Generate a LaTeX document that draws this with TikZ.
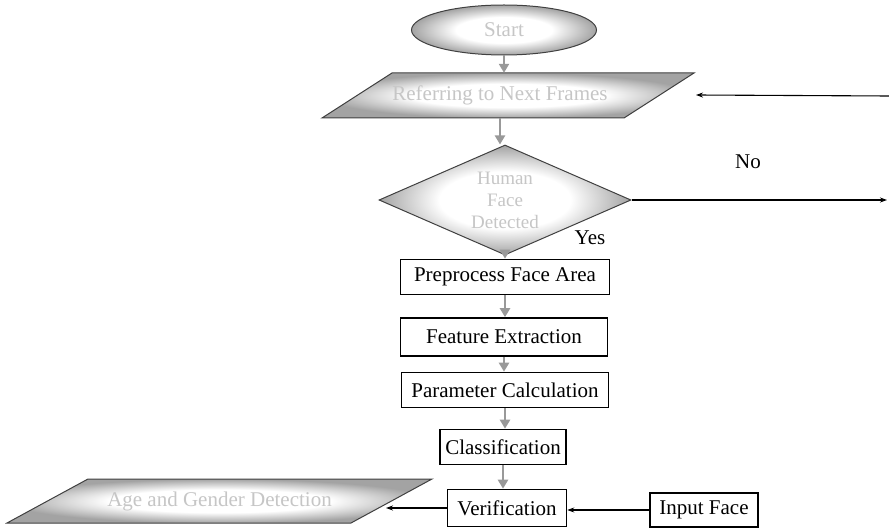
\documentclass[tikz,border=0pt]{standalone}
\usepackage{fontspec}
\setmainfont{Liberation Serif}
\usetikzlibrary{shapes.geometric,arrows.meta}
\pgfdeclareradialshading{softglow}{\pgfpoint{0bp}{0bp}}{color(0bp)=(white); color(13bp)=(white); color(25bp)=(gray!72); color(50bp)=(gray!72)}
\begin{document}
\begin{tikzpicture}[x=1pt,y=-1pt,
  every node/.style={font=\fontsize{21}{24}\selectfont},
  procbox/.style={draw=black,line width=1.6pt,fill=white,rectangle,inner sep=0pt,minimum height=35pt},
  shadefill/.style={draw=black!75,line width=1pt,shading=softglow},
  ghost/.style={text=gray!45},
  flow/.style={draw=gray!80,line width=2.8pt,-{Triangle[width=10pt,length=9pt]}},
  link/.style={draw=black,line width=1.1pt,-{Stealth[length=7pt,width=5pt]}},
  lbl/.style={font=\fontsize{21}{24}\selectfont}
]
\useasboundingbox (0,0) rectangle (889,529);

% start
\node[ellipse, shadefill, ghost, minimum width=185pt, minimum height=50pt] (start) at (504,30) {Start};

% next frame parallelogram
\path[shadefill] (392,73) -- (694,73) -- (624,118) -- (322,118) -- cycle;
\node[ghost, minimum width=240pt, minimum height=45pt, inner sep=0pt] (frame) at (500,95.5) {Referring to Next Frames};

% decision
\node[diamond, shadefill, ghost, aspect=2.3, inner sep=0pt, minimum width=252pt, minimum height=110pt, align=center, font=\fontsize{19}{22}\selectfont] (detect) at (505,200) {Human\\Face\\Detected};

% process boxes
\node[procbox, minimum width=209pt] (pre) at (505,277) {Preprocess Face Area};
\node[procbox, minimum width=207pt, minimum height=38pt] (feat) at (504,337) {Feature Extraction};
\node[procbox, minimum width=207pt] (param) at (505,390) {Parameter Calculation};
\node[procbox, minimum width=126pt] (cls) at (503,447) {Classification};
\node[procbox, minimum width=119pt, minimum height=37pt] (ver) at (507,508) {Verification};
\node[procbox, minimum width=108pt, minimum height=34pt] (inp) at (704,510) {Input Face};

% output parallelogram
\path[shadefill] (88,479) -- (432,479) -- (351,523) -- (7,523) -- cycle;
\node[ghost, minimum width=260pt, minimum height=44pt, inner sep=0pt] (age) at (219.5,501) {Age and Gender Detection};
\coordinate (ageR) at (386,508);

% labels
\node[lbl] (yes) at (590,238) {Yes};
\node[lbl] (no) at (748,162) {No};

% vertical flow
\draw[flow] (start.south) -- (start.south |- frame.north);
\draw[flow] (frame.south) -- (frame.south |- detect.north);
\draw[flow] (detect.south) -- (detect.south |- pre.north);
\draw[flow] (pre.south) -- (pre.south |- feat.north);
\draw[flow] (feat.south) -- (feat.south |- param.north);
\draw[flow] (param.south) -- (param.south |- cls.north);
\draw[flow] (cls.south) -- (cls.south |- ver.north);

% horizontal links
\draw[link] (inp.west) -- (ver.east |- inp.west);
\draw[link] (ver.west) -- (ageR);
\coordinate (loopin) at (889,96);
\coordinate (looptip) at (696,95);
\draw[link] (loopin) -- (looptip);
\coordinate (noend) at (887,200);
\draw[link] (detect.east) -- (noend);
\end{tikzpicture}
\end{document}
